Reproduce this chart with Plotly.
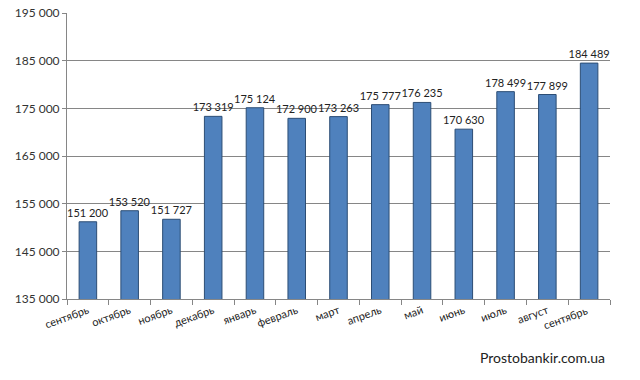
import plotly.graph_objects as go

months = ["сентябрь", "октябрь", "ноябрь", "декабрь", "январь", "февраль", "март",
          "апрель", "май", "июнь", "июль", "август", "сентябрь "]
values = [151200, 153520, 151727, 173319, 175124, 172900, 173263,
          175777, 176235, 170630, 178499, 177899, 184489]
y_ticks = [135000, 145000, 155000, 165000, 175000, 185000, 195000]

fig = go.Figure(go.Bar(
    x=months, y=values,
    marker=dict(color="#4F81BD", line=dict(color="#2C4D75", width=1)),
    width=0.42,
    texttemplate="%{y:,d}", textposition="outside", cliponaxis=False,
    constraintext="none",
    textfont=dict(family="Lato, Open Sans, sans-serif", size=11, color="#222222"),
))

fig.update_layout(
    width=640, height=380,
    margin=dict(l=67, r=30, t=13, b=81),
    paper_bgcolor="white", plot_bgcolor="white",
    separators=". ",
    showlegend=False,
    font=dict(family="Lato, Open Sans, sans-serif", color="#222222"),
    xaxis=dict(
        tickangle=-20, tickfont=dict(size=11),
        ticks="outside", tickson="boundaries", ticklen=5, tickcolor="#868686",
        showline=True, linecolor="#868686", linewidth=1,
        showgrid=False, automargin=False,
    ),
    yaxis=dict(
        range=[135000, 195000], tickvals=y_ticks, tickformat=",d",
        tickfont=dict(size=12, color="#333333"),
        ticks="outside", ticklen=4, tickcolor="#868686",
        showgrid=True, gridcolor="#868686", gridwidth=1,
        showline=True, linecolor="#868686", linewidth=1,
        zeroline=False, automargin=False,
    ),
    annotations=[dict(
        text="Prostobankir.com.ua", xref="paper", yref="paper",
        x=0.875, y=-0.203, xanchor="center", yanchor="middle", showarrow=False,
        font=dict(size=14, color="#222222", family="Lato, Open Sans, sans-serif"),
    )],
)

fig.write_html("out.html", config={"displayModeBar": False},
               post_script="document.body.style.margin='0';document.body.style.overflow='hidden';")
